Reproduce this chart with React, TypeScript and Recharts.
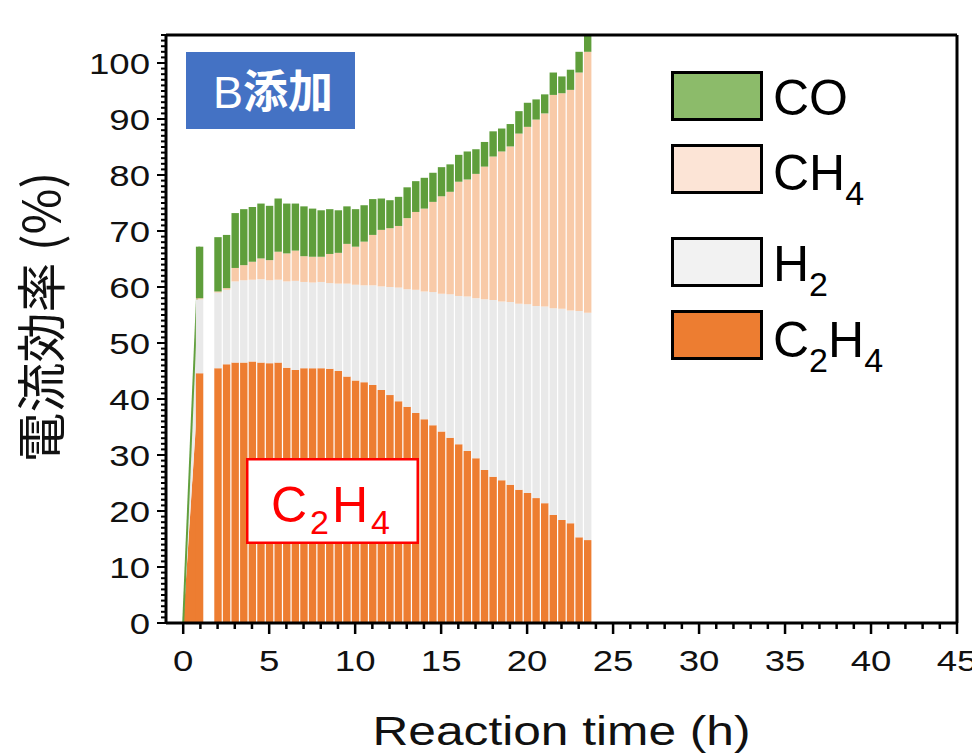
import React from 'react';
import { ComposedChart, Bar, Area, XAxis, YAxis, Legend, Label } from 'recharts';

// ---- data ----
const times = [0.93, 2.0, 2.5, 3.0, 3.5, 4.0, 4.5, 5.0, 5.5, 6.0, 6.5, 7.0, 7.5, 8.0, 8.5, 9.0, 9.5, 10.0, 10.5, 11.0, 11.5, 12.0, 12.5, 13.0, 13.5, 14.0, 14.5, 15.0, 15.5, 16.0, 16.5, 17.0, 17.5, 18.0, 18.5, 19.0, 19.5, 20.0, 20.5, 21.0, 21.5, 22.0, 22.5, 23.0, 23.5];
const c2h4 = [44.6, 45.5, 46.2, 46.5, 46.5, 46.7, 46.5, 46.4, 46.5, 45.6, 45.2, 45.5, 45.5, 45.5, 45.4, 45.0, 44.0, 43.3, 43.0, 42.5, 41.6, 40.7, 39.6, 38.6, 37.5, 36.4, 35.3, 34.2, 33.1, 31.9, 30.7, 29.4, 27.3, 26.1, 25.5, 24.7, 23.8, 23.2, 22.3, 21.4, 19.3, 18.4, 17.8, 15.3, 14.8];
const h2 = [13.2, 13.5, 13.3, 14.5, 14.7, 14.6, 14.9, 14.8, 14.8, 15.4, 15.9, 15.4, 15.3, 15.4, 15.3, 15.6, 16.6, 17.1, 17.3, 17.8, 18.5, 19.3, 20.3, 21.0, 22.0, 22.8, 23.8, 24.6, 25.6, 26.5, 27.6, 28.6, 30.5, 31.6, 31.9, 32.6, 33.2, 33.7, 34.3, 35.1, 36.9, 37.7, 38.0, 40.4, 40.6];
const ch4 = [0.2, 0.2, 0.3, 2.4, 2.7, 3.2, 3.7, 3.6, 5.0, 5.0, 5.4, 4.6, 4.6, 4.5, 5.2, 5.5, 7.1, 6.8, 7.8, 9.0, 10.1, 10.5, 11.0, 12.7, 13.9, 14.8, 16.1, 17.4, 18.3, 20.4, 20.9, 22.2, 23.7, 25.6, 26.8, 27.8, 30.4, 31.7, 33.3, 34.5, 38.1, 38.5, 39.4, 42.6, 46.6];
const co = [9.2, 9.7, 9.5, 9.8, 10.0, 9.8, 9.8, 9.7, 9.5, 8.9, 8.4, 8.9, 8.6, 8.3, 8.0, 7.6, 6.7, 6.7, 6.5, 6.4, 5.6, 5.0, 5.2, 5.5, 5.5, 5.5, 5.2, 5.2, 4.9, 4.8, 5.0, 4.4, 4.4, 4.5, 4.1, 4.0, 4.0, 4.3, 3.6, 3.4, 4.0, 3.0, 3.6, 3.7, 3.0];

// initial ramp (start-up of the reaction): from zero at t = 0 up to the first sample
const rampTimes = [0, 0.93];
const rampC2H4 = [0, 44.6];
const rampOthers = [0, 22.6];

const xMajorTicks = [0, 5, 10, 15, 20, 25, 30, 35, 40, 45];
const yMajorTicks = [0, 10, 20, 30, 40, 50, 60, 70, 80, 90, 100];
const xAllTicks = Array.from({ length: 46 }, (_, i) => i);
const yAllTicks = Array.from({ length: 106 }, (_, i) => i);

const legendLabels = ['CO', 'CH4', 'H2', 'C2H4'];
const legendColors = ['#8cbb6a', '#fce4d6', '#f2f2f2', '#ed7d31'];
const legendTops = [11, 84, 177, 250];
const legendBaselines = [55, 130, 221, 297];

const barColors = { c2h4: '#ed7d31', h2: '#e9e9e9', ch4: '#f8caa8', co: '#5f9e3b' };

// merge bar samples and ramp points into one table keyed by time
const rowMap = new Map<number, any>();
rampTimes.forEach((t, i) => {
  rowMap.set(t, { ...(rowMap.get(t) || { t }), rampC2H4: rampC2H4[i], rampOthers: rampOthers[i] });
});
times.forEach((t, i) => {
  rowMap.set(t, { ...(rowMap.get(t) || { t }), c2h4: c2h4[i], h2: h2[i], ch4: ch4[i], co: co[i] });
});
const rows: any[] = Array.from(rowMap.values()).sort((a, b) => a.t - b.t);

const LATIN = '"Liberation Sans", Arial, sans-serif';
const CJK = '"Noto Sans CJK JP", "Noto Sans", sans-serif';

function formula(str: string, sub: number, dy: number) {
  const parts: any[] = [];
  let down = false;
  str.split('').forEach((ch, i) => {
    const isDigit = /[0-9]/.test(ch);
    if (isDigit && !down) {
      parts.push(<tspan key={i} fontSize={sub} dy={dy}>{ch}</tspan>);
      down = true;
    } else if (!isDigit && down) {
      parts.push(<tspan key={i} dy={-dy}>{ch}</tspan>);
      down = false;
    } else if (isDigit) {
      parts.push(<tspan key={i} fontSize={sub}>{ch}</tspan>);
    } else {
      parts.push(<tspan key={i}>{ch}</tspan>);
    }
  });
  return parts;
}

const XTick = (props: any) => {
  const { x, y, payload } = props;
  const v = payload.value;
  const major = xMajorTicks.includes(v);
  return (
    <g>
      <line x1={x} y1={y} x2={x} y2={y + (major ? 11 : 6)} stroke="#000" strokeWidth={2.5} />
      {major && (
        <text transform={`translate(${x},${y + 48}) scale(1.22,1)`} textAnchor="middle" fontSize={30} fontFamily={LATIN} fill="#111">
          {v}
        </text>
      )}
    </g>
  );
};

const YTick = (props: any) => {
  const { x, y, payload } = props;
  const v = payload.value;
  const major = yMajorTicks.includes(v);
  return (
    <g>
      <line x1={x} y1={y} x2={x - (major ? 9 : 5)} y2={y} stroke="#000" strokeWidth={2} />
      {major && (
        <text transform={`translate(${x - 16},${y + 11}) scale(1.22,1)`} textAnchor="end" fontSize={30} fontFamily={LATIN} fill="#111">
          {v}
        </text>
      )}
    </g>
  );
};

const XTitle = (props: any) => {
  const vb = props.viewBox || { x: 166, y: 623, width: 791 };
  return (
    <text x={vb.x + vb.width / 2} y={745} textAnchor="middle" fontSize={40} fontFamily={LATIN} fill="#111" textLength={378} lengthAdjust="spacingAndGlyphs">
      Reaction time (h)
    </text>
  );
};

const YTitle = () => (
  <text transform="translate(60,317) rotate(-90)" textAnchor="middle" fontSize={50} fontFamily={CJK} fill="#111">
    電流効率 (%)
  </text>
);

const LegendContent = () => (
  <svg width={312} height={320} style={{ display: 'block' }}>
    {legendLabels.map((lab, i) => (
      <g key={lab}>
        <rect x={12.5} y={legendTops[i] + 1.5} width={89} height={47} fill={legendColors[i]} stroke="#000" strokeWidth={3} />
        <text x={113} y={legendBaselines[i]} fontSize={50} fontFamily={LATIN} fill="#000">
          {formula(lab, 34, 15)}
        </text>
      </g>
    ))}
  </svg>
);

export default function App() {
  return (
    <div style={{ position: 'absolute', left: 0, top: 0, width: 972, height: 753, background: '#fff', overflow: 'hidden' }}>
      <ComposedChart width={972} height={753} data={rows} margin={{ top: 34, right: 14, bottom: 0, left: 0 }} barSize={7.4} barGap={0}>
        <XAxis
          dataKey="t"
          type="number"
          domain={[-1, 45]}
          ticks={xAllTicks}
          interval={0}
          tickLine={false}
          tickSize={0}
          tickMargin={0}
          height={130}
          axisLine={{ stroke: '#000', strokeWidth: 3 }}
          tick={(p: any) => <XTick {...p} />}
          allowDataOverflow
        >
          <Label content={(p: any) => <XTitle {...p} />} />
        </XAxis>
        <XAxis xAxisId="top" orientation="top" type="number" dataKey="t" domain={[-1, 45]} height={1} tick={false} tickLine={false} axisLine={{ stroke: '#000', strokeWidth: 3 }} allowDataOverflow />
        <YAxis
          type="number"
          domain={[0, 105]}
          ticks={yAllTicks}
          interval={0}
          width={166}
          tickLine={false}
          tickSize={0}
          tickMargin={0}
          axisLine={{ stroke: '#000', strokeWidth: 3 }}
          tick={(p: any) => <YTick {...p} />}
          allowDataOverflow
        >
          <Label content={() => <YTitle />} />
        </YAxis>
        <YAxis yAxisId="right" orientation="right" type="number" domain={[0, 105]} width={1} tick={false} tickLine={false} axisLine={{ stroke: '#000', strokeWidth: 3 }} />
        <Area dataKey="rampC2H4" stackId="r" type="linear" fill={barColors.c2h4} fillOpacity={1} stroke="none" isAnimationActive={false} dot={false} activeDot={false} />
        <Area dataKey="rampOthers" stackId="r" type="linear" fill="#ececec" fillOpacity={1} stroke="#62a03e" strokeWidth={2} isAnimationActive={false} dot={false} activeDot={false} />
        <Bar dataKey="c2h4" stackId="s" barSize={7.4} fill={barColors.c2h4} isAnimationActive={false} />
        <Bar dataKey="h2" stackId="s" barSize={7.4} fill={barColors.h2} isAnimationActive={false} />
        <Bar dataKey="ch4" stackId="s" barSize={7.4} fill={barColors.ch4} isAnimationActive={false} />
        <Bar dataKey="co" stackId="s" barSize={7.4} fill={barColors.co} isAnimationActive={false} />
        <Legend
          layout="horizontal"
          verticalAlign="middle"
          align="center"
          wrapperStyle={{ left: 660, top: 60, width: 312, height: 320 }}
          content={() => <LegendContent />}
        />
      </ComposedChart>
      <svg width={972} height={753} style={{ position: 'absolute', left: 0, top: 0, pointerEvents: 'none' }}>
        <rect x={186} y={52} width={169} height={77} fill="#4472c4" />
        <text x={273} y={108} textAnchor="middle" fontSize={45} fill="#fff">
          <tspan fontFamily={LATIN}>B</tspan>
          <tspan fontFamily={CJK} fontWeight="bold">添加</tspan>
        </text>
        <rect x={247.25} y={459.25} width={170.5} height={83.5} fill="#fff" stroke="#ff0000" strokeWidth={2.5} />
        <text x={332} y={522} textAnchor="middle" fontSize={50} fontFamily={LATIN} fill="#ff0000" letterSpacing={3}>
          {formula('C2H4', 34, 12)}
        </text>
      </svg>
    </div>
  );
}
